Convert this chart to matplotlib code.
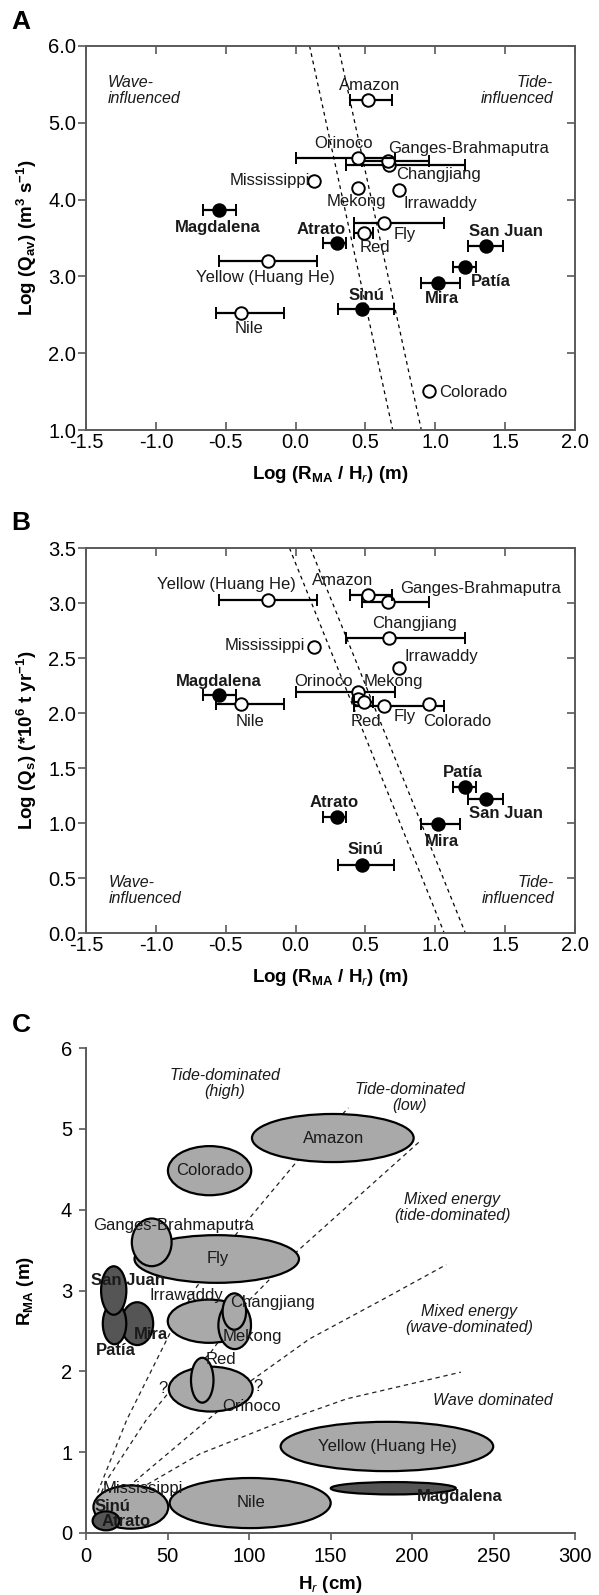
import matplotlib
matplotlib.use('Agg')
import matplotlib.pyplot as plt
from matplotlib.patches import Ellipse
import numpy as np

plt.rcParams['font.family'] = ['Liberation Sans', 'DejaVu Sans']
plt.rcParams['mathtext.fontset'] = 'custom'
plt.rcParams['mathtext.rm'] = 'Liberation Sans'
plt.rcParams['mathtext.it'] = 'Liberation Sans:italic'
plt.rcParams['mathtext.bf'] = 'Liberation Sans:bold'
plt.rcParams['axes.unicode_minus'] = False

# ---------------- panels A and B: one value per river ----------------
rivers = ['Changjiang', 'Ganges-Brahmaputra', 'Orinoco', 'Amazon', 'Mississippi',
          'Mekong', 'Irrawaddy', 'Magdalena', 'Fly', 'Red', 'Atrato', 'San Juan',
          'Yellow (Huang He)', 'Patía', 'Mira', 'Sinú', 'Nile', 'Colorado']
colombian = ['Magdalena', 'Atrato', 'San Juan', 'Patía', 'Mira', 'Sinú']

log_rma_hr = [0.667, 0.662, 0.446, 0.517, 0.134, 0.449, 0.741, -0.548, 0.635, 0.49,
              0.293, 1.365, -0.20, 1.215, 1.018, 0.476, -0.394, 0.955]
err_lo = [0.306, 0.19, 0.44, 0.129, 0, 0, 0, 0.117, 0.214, 0.069,
          0.096, 0.131, 0.345, 0.088, 0.118, 0.173, 0.176, 0]
err_hi = [0.548, 0.293, 0.263, 0.172, 0, 0, 0, 0.121, 0.429, 0.063,
          0.068, 0.118, 0.353, 0.076, 0.162, 0.227, 0.309, 0]
log_qav = [4.45, 4.50, 4.54, 5.30, 4.245, 4.15, 4.13, 3.86, 3.70, 3.57,
           3.43, 3.40, 3.195, 3.117, 2.92, 2.576, 2.524, 1.504]
log_qs = [2.68, 3.01, 2.19, 3.07, 2.60, 2.13, 2.41, 2.16, 2.06, 2.10,
          1.055, 1.22, 3.03, 1.33, 0.99, 0.62, 2.08, 2.08]

# boundary lines (x at top, x at bottom)
boundA_x = [[0.10, 0.695], [0.305, 0.90]]
boundA_y = [6.0, 1.0]
boundB_x = [[-0.044, 1.064], [0.106, 1.215]]
boundB_y = [3.5, 0.0]

# label placement (x, y, ha)
labelsA = {
    'Amazon': (0.53, 5.48, 'center'), 'Orinoco': (0.34, 4.73, 'center'),
    'Ganges-Brahmaputra': (0.66, 4.67, 'left'), 'Changjiang': (0.72, 4.33, 'left'),
    'Mississippi': (0.105, 4.25, 'right'), 'Mekong': (0.435, 3.98, 'center'),
    'Irrawaddy': (1.034, 3.955, 'center'), 'Magdalena': (-0.556, 3.63, 'center'),
    'Atrato': (0.18, 3.616, 'center'), 'Fly': (0.70, 3.54, 'left'),
    'Red': (0.566, 3.37, 'center'), 'San Juan': (1.505, 3.586, 'center'),
    'Yellow (Huang He)': (-0.214, 2.99, 'center'), 'Patía': (1.396, 2.935, 'center'),
    'Mira': (1.045, 2.71, 'center'), 'Sinú': (0.506, 2.75, 'center'),
    'Nile': (-0.33, 2.32, 'center'), 'Colorado': (1.03, 1.49, 'left'),
}
labelsB = {
    'Yellow (Huang He)': (-0.496, 3.173, 'center'), 'Amazon': (0.339, 3.203, 'center'),
    'Ganges-Brahmaputra': (0.75, 3.13, 'left'), 'Changjiang': (0.848, 2.81, 'center'),
    'Mississippi': (0.065, 2.613, 'right'), 'Irrawaddy': (1.042, 2.516, 'center'),
    'Magdalena': (-0.55, 2.29, 'center'), 'Orinoco': (0.2, 2.283, 'center'),
    'Mekong': (0.698, 2.29, 'center'), 'Nile': (-0.323, 1.926, 'center'),
    'Red': (0.50, 1.926, 'center'), 'Fly': (0.78, 1.965, 'center'),
    'Colorado': (1.155, 1.926, 'center'), 'Patía': (1.20, 1.463, 'center'),
    'San Juan': (1.508, 1.085, 'center'), 'Atrato': (0.276, 1.19, 'center'),
    'Mira': (1.045, 0.833, 'center'), 'Sinú': (0.498, 0.764, 'center'),
}

# ---------------- panel C: ellipses (H_r cm, R_MA m) ----------------
ell_names = ['Amazon', 'Colorado', 'Fly', 'Ganges-Brahmaputra', 'Irrawaddy', 'Mekong',
             'Changjiang', 'Orinoco', 'Red', 'Mira', 'Patía', 'San Juan',
             'Yellow (Huang He)', 'Nile', 'Magdalena', 'Mississippi', 'Atrato']
ell_hr = [151.4, 75.8, 80.2, 40.3, 75.5, 91.2, 91.0, 76.5, 71.3, 31.4, 17.5, 17.0,
          184.6, 100.7, 188.5, 27.5, 12.3]
ell_rma = [4.887, 4.483, 3.39, 3.596, 2.62, 2.57, 2.74, 1.78, 1.89, 2.59, 2.59, 3.0,
           1.07, 0.37, 0.553, 0.32, 0.15]
ell_w = [99.2, 51.1, 100.9, 24.4, 50.7, 20.0, 14.4, 51.4, 13.8, 19.6, 14.4, 15.5,
         130.4, 98.8, 76.7, 45.9, 16.5]
ell_h = [0.595, 0.608, 0.59, 0.59, 0.535, 0.59, 0.45, 0.555, 0.555, 0.53, 0.51, 0.6,
         0.61, 0.62, 0.153, 0.535, 0.235]

curve1_hr = [7.1, 9.9, 25, 51.6, 68, 92.6, 129.5, 161]
curve1_rma = [0.5, 0.64, 1.40, 2.475, 3.05, 3.71, 4.6, 5.26]
curve2_hr = [9.5, 12.3, 37, 50, 76, 97.7, 129.5, 205]
curve2_rma = [0.5, 0.64, 1.4, 1.72, 2.22, 2.83, 3.485, 4.85]
curve3_hr = [22, 30, 80, 101, 137, 183, 221]
curve3_rma = [0.5, 0.64, 1.49, 1.88, 2.40, 2.90, 3.32]
curve4_hr = [29, 41, 70, 115, 160, 230]
curve4_rma = [0.5, 0.64, 0.98, 1.34, 1.66, 1.99]

labelsC = {
    'Amazon': (152, 4.88), 'Colorado': (76, 4.48), 'Ganges-Brahmaputra': (53.5, 3.81),
    'Fly': (80.7, 3.40), 'San Juan': (26, 3.12), 'Irrawaddy': (61.5, 2.94),
    'Changjiang': (114.5, 2.85), 'Mira': (40, 2.46), 'Mekong': (102.3, 2.43),
    'Patía': (18.3, 2.26), 'Red': (83, 2.15), 'Orinoco': (101.6, 1.565),
    'Yellow (Huang He)': (185, 1.07), 'Mississippi': (34.7, 0.547), 'Nile': (101, 0.38),
    'Magdalena': (229.2, 0.455), 'Sinú': (16, 0.33), 'Atrato': (24.6, 0.145),
}
regionsC = [('Tide-dominated\n(high)', 85, 5.56), ('Tide-dominated\n(low)', 198.5, 5.39),
            ('Mixed energy\n(tide-dominated)', 224.7, 4.03),
            ('Mixed energy\n(wave-dominated)', 234.8, 2.64),
            ('Wave dominated', 249.6, 1.636)]

SPINE = '#5a5a5a'
LFS = 12
TFS = 14.5
AFS = 13.5

fig = plt.figure(figsize=(5.99, 15.95), dpi=100)
axA = fig.add_axes([0.1436, 0.7304, 0.8164, 0.2408])
axB = fig.add_axes([0.1436, 0.4150, 0.8164, 0.2414])
axC = fig.add_axes([0.1436, 0.0389, 0.8164, 0.3040])


def scatter_panel(ax, yvals, labels, bx, by, ylim, yticks):
    for xs in bx:
        ax.plot(xs, by, ls=(0, (3, 3)), color='k', lw=0.9, zorder=1)
    for i, name in enumerate(rivers):
        filled = name in colombian
        has_err = err_lo[i] > 0 or err_hi[i] > 0
        ax.errorbar(log_rma_hr[i], yvals[i],
                    xerr=[[err_lo[i]], [err_hi[i]]] if has_err else None,
                    fmt='o', ms=9, mfc='k' if filled else 'white', mec='k', mew=1.4,
                    ecolor='k', elinewidth=1.6, capsize=4, capthick=1.6, zorder=3 + i * 0.1)
    for name, (tx, ty, ha) in labels.items():
        ax.text(tx, ty, name, ha=ha, va='center', fontsize=LFS,
                fontweight='bold' if name in colombian else 'normal', color='#1a1a1a', zorder=10)
    ax.set_xlim(-1.5, 2.0)
    ax.set_ylim(*ylim)
    ax.set_xticks(np.arange(-1.5, 2.01, 0.5))
    ax.set_xticklabels([f'{v:.1f}' for v in np.arange(-1.5, 2.01, 0.5)])
    ax.set_yticks(yticks)
    ax.set_yticklabels([f'{v:.1f}' for v in yticks])
    for s in ax.spines.values():
        s.set_color(SPINE)
        s.set_linewidth(1.4)
    ax.spines['right'].set_visible(False)
    ax.tick_params(axis='x', direction='in', top=True, length=6, width=1.2,
                   color=SPINE, labelsize=TFS, pad=2)
    ax.tick_params(axis='y', direction='out', length=6, width=1.2,
                   color=SPINE, labelsize=TFS, pad=1)
    sec = ax.secondary_yaxis('right')
    sec.set_yticks(yticks)
    sec.tick_params(direction='in', length=6, width=1.2, color=SPINE, labelright=False)
    sec.spines['right'].set_color(SPINE)
    sec.spines['right'].set_linewidth(1.4)
    ax.set_xlabel(r'Log (R$_{\mathbf{MA}}$ / H$_{\mathit{r}}$) (m)', fontsize=AFS,
                  fontweight='bold', va='center')
    ax.xaxis.set_label_coords(0.5, -0.115)


scatter_panel(axA, log_qav, labelsA, boundA_x, boundA_y, (1.0, 6.0), np.arange(1.0, 6.01, 1.0))
axA.set_ylabel(r'Log (Q$_{\mathbf{av}}$) (m$^{\mathbf{3}}$ s$^{\mathbf{-1}}$)', fontsize=AFS,
               fontweight='bold', va='center')
axA.yaxis.set_label_coords(-0.121, 0.5)
axA.text(-1.344, 5.42, 'Wave-\ninfluenced', ha='left', va='center', fontsize=11.5,
         style='italic', linespacing=1.1, color='#1a1a1a')
axA.text(1.844, 5.42, 'Tide-\ninfluenced', ha='right', va='center', fontsize=11.5,
         style='italic', linespacing=1.1, color='#1a1a1a', multialignment='right')

scatter_panel(axB, log_qs, labelsB, boundB_x, boundB_y, (0.0, 3.5), np.arange(0.0, 3.51, 0.5))
axB.set_ylabel(r'Log (Q$_{\mathbf{s}}$) (*10$^{\mathbf{6}}$ t yr$^{\mathbf{-1}}$)', fontsize=AFS,
               fontweight='bold', va='center')
axB.yaxis.set_label_coords(-0.121, 0.5)
axB.text(-1.336, 0.387, 'Wave-\ninfluenced', ha='left', va='center', fontsize=11.5,
         style='italic', linespacing=1.1, color='#1a1a1a')
axB.text(1.85, 0.387, 'Tide-\ninfluenced', ha='right', va='center', fontsize=11.5,
         style='italic', linespacing=1.1, color='#1a1a1a', multialignment='right')

# panel C
for hr, rma in [(curve1_hr, curve1_rma), (curve2_hr, curve2_rma),
                (curve3_hr, curve3_rma), (curve4_hr, curve4_rma)]:
    axC.plot(hr, rma, ls=(0, (3.5, 3)), color='#222222', lw=0.9, zorder=1)
for i, name in enumerate(ell_names):
    fc = '#555555' if name in colombian else '#a9a9a9'
    axC.add_patch(Ellipse((ell_hr[i], ell_rma[i]), ell_w[i], ell_h[i], facecolor=fc,
                          edgecolor='k', lw=1.6, zorder=2 + i * 0.1))
for name, (tx, ty) in labelsC.items():
    axC.text(tx, ty, name, ha='center', va='center', fontsize=LFS,
             fontweight='bold' if name in colombian else 'normal', color='#1a1a1a', zorder=10)
for qx, qy in [(47, 1.79), (105.6, 1.81)]:
    axC.text(qx, qy, '?', ha='center', va='center', fontsize=LFS, color='#1a1a1a', zorder=10)
for txt, tx, ty in regionsC:
    axC.text(tx, ty, txt, ha='center', va='center', fontsize=11.5, style='italic',
             linespacing=1.1, color='#1a1a1a')
axC.set_xlim(0, 300)
axC.set_ylim(0, 6)
axC.set_xticks(np.arange(0, 301, 50))
axC.set_yticks(np.arange(0, 7, 1))
for s in ['top', 'right']:
    axC.spines[s].set_visible(False)
for s in ['left', 'bottom']:
    axC.spines[s].set_color(SPINE)
    axC.spines[s].set_linewidth(1.4)
axC.tick_params(direction='out', length=5, width=1.2, color=SPINE, labelsize=TFS)
axC.tick_params(axis='x', pad=5)
axC.tick_params(axis='y', pad=5)
axC.set_xlabel(r'H$_{\mathit{r}}$ (cm)', fontsize=AFS, fontweight='bold', va='center')
axC.set_ylabel(r'R$_{\mathbf{MA}}$ (m)', fontsize=AFS, fontweight='bold', va='center')
axC.xaxis.set_label_coords(0.5, -0.107)
axC.yaxis.set_label_coords(-0.123, 0.5)

for letter, py in [('A', 22), ('B', 523), ('C', 1025)]:
    fig.text(21 / 599, 1 - py / 1595, letter, fontsize=19, fontweight='bold',
             ha='center', va='center')

fig.savefig('out.png', dpi=100)
